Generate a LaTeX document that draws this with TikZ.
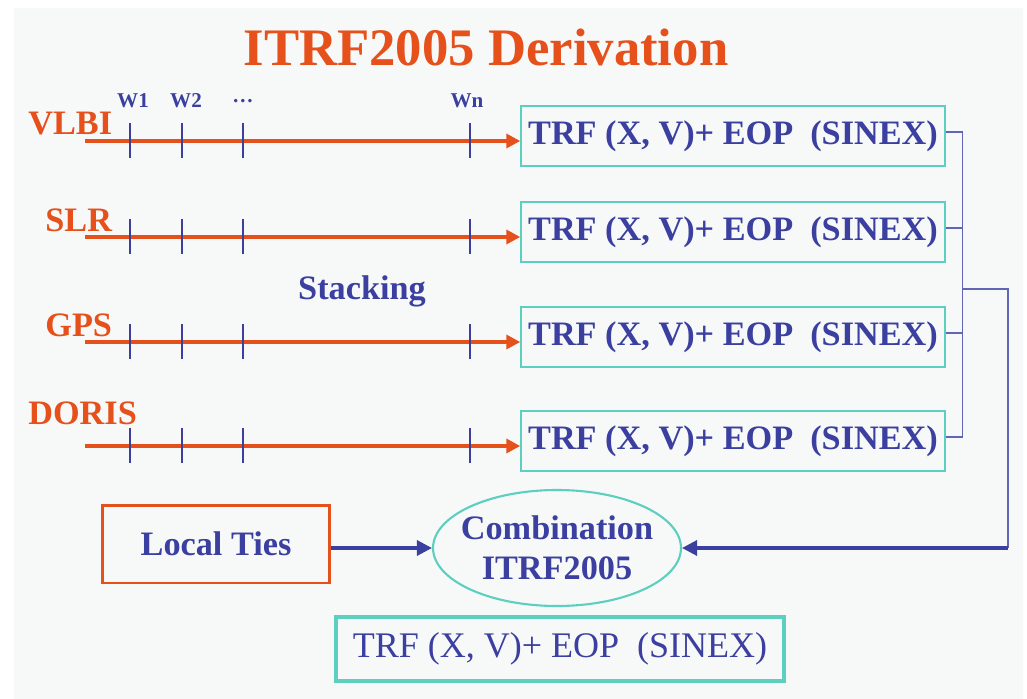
\documentclass[tikz,border=0pt]{standalone}
\usepackage{fontspec}
\setmainfont{Liberation Serif}
\usetikzlibrary{shapes.geometric,arrows.meta,positioning}
\definecolor{itrforange}{HTML}{E6501A}
\definecolor{itrfblue}{HTML}{3A3FA0}
\definecolor{itrfteal}{HTML}{5CCFBF}
\definecolor{slidebg}{HTML}{F7F9F9}
\tikzset{
  bigfont/.style={font=\fontsize{19.5}{23}\selectfont\bfseries},
  trfbox/.style={draw=itrfteal, line width=0.9pt, minimum width=8.48cm, minimum height=1.2cm,
    inner sep=0pt, text=itrfblue, bigfont},
  techlabel/.style={anchor=west, inner sep=0pt, text=itrforange, bigfont},
  wlabel/.style={inner sep=0pt, text=itrfblue, font=\fontsize{12}{14}\selectfont\bfseries},
  tline/.style={draw=itrforange, line width=2.1pt, -{Triangle[length=0.28cm,width=0.28cm]}},
  tickmark/.style={draw=itrfblue, line width=1.6pt},
  busline/.style={draw=itrfblue!80, line width=0.8pt},
  combarrow/.style={draw=itrfblue, line width=1.8pt, -{Triangle[length=0.3cm,width=0.3cm]}}
}

\begin{document}
\begin{tikzpicture}[x=0.02cm, y=-0.02cm]
% slide background
\fill[white] (0,0) rectangle (1027,699);
\fill[slidebg] (14,8) rectangle (1023,699);

\node[text=itrforange, font=\fontsize{30}{36}\selectfont\bfseries] (title) at (486,47) {ITRF2005 Derivation};

% week labels
\node[wlabel] (w1) at (133,101) {W1};
\node[wlabel] (w2) at (186,101) {W2};
\node[wlabel] (wdots) at (243,101) {\dots};
\node[wlabel] (wn) at (467,101) {Wn};

% one row per technique
\foreach \tech/\lx/\ly/\ry [count=\i] in {VLBI/28/124/141, SLR/45/220/237, GPS/45/325/342, DORIS/28/413/446} {
  \node[techlabel] (tech\i) at (\lx,\ly) {\tech};
  \node[trfbox] (box\i) at (733,{\ry-5}) {TRF (X, V)+ EOP\ \ (SINEX)};
  \coordinate (start\i) at (85,\ry);
  \draw[tline] (start\i) -- (box\i.west |- start\i);
  \foreach \wx in {130,182,243,470}
    \draw[tickmark] (\wx,{\ry-18}) -- (\wx,{\ry+17});
  \draw[busline] ([yshift=0.08cm]box\i.east) -- ++(17,0) coordinate (bus\i);
}
\node[text=itrfblue, bigfont] (stack) at (362,291) {Stacking};

\draw[busline] (bus1) -- (bus4);

% combination
\node[ellipse, draw=itrfteal, line width=1.2pt, minimum width=4.96cm, minimum height=2.32cm,
  inner xsep=-0.18cm, inner ysep=0pt, align=center, text=itrfblue, bigfont] (comb) at (557,548) {Combination\\ITRF2005};
\node[draw=itrforange, line width=1.7pt, minimum width=4.56cm, minimum height=1.56cm,
  text=itrfblue, bigfont] (ties) at (216,544) {Local Ties};
\node[draw=itrfteal, line width=2.3pt, minimum width=8.98cm, minimum height=1.28cm,
  text=itrfblue, font=\fontsize{20.5}{24}\selectfont] (result) at (560,649) {TRF (X, V)+ EOP\ \ (SINEX)};

\coordinate (join) at (962,289);
\coordinate (corner) at (1008,289);
\draw[busline] (join) -- (corner) -- (corner |- comb);
\draw[combarrow] (corner |- comb) -- (comb.east);
\draw[combarrow] (ties.east |- comb) -- (comb.west);
\end{tikzpicture}
\end{document}
